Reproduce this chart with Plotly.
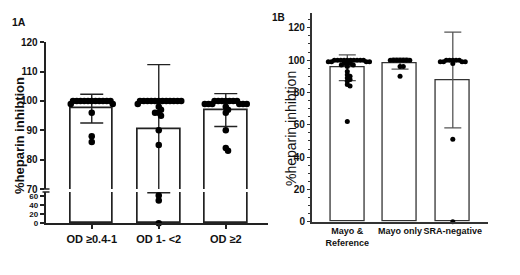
import plotly.graph_objects as go

# ---------------- data ----------------
cats_a = ["OD ≥0.4-1", "OD 1- <2", "OD ≥2"]
mean_a = [97.4, 90.4, 96.9]
sd_a = [4.9, 22.0, 5.6]
pts_a = [
    [100] * 11 + [99, 99, 96, 88, 86],
    [100] * 12 + [99, 98, 97, 96, 96, 95, 90, 85, 62, 51, 0],
    [100] * 7 + [99] * 6 + [98, 97, 96, 90, 84, 83],
]

cats_b = ["Mayo &<br>Reference", "Mayo only", "SRA-negative"]
mean_b = [95.3, 97.8, 87.7]
sd_b = [8.0, 3.4, 29.6]
pts_b = [
    [100] * 10 + [99] * 4 + [98] * 3 + [97, 97, 96, 93, 91, 90, 89, 88, 87, 85, 84, 62],
    [100] * 7 + [96, 96, 90],
    [100] * 5 + [99] * 4 + [98, 51, 0],
]

# page body has an 8px margin: the figure is drawn from (8, 8) of the window
OFF = 8
W, H = 520 - OFF, 275 - OFF
FONT = "Arial, Liberation Sans, sans-serif"


def swarm(values, center, px_per_x, ypix, min_dist):
    """Simple beeswarm: returns x positions (data units) for each value."""
    placed = []
    xs = []
    for v in values:
        yp = ypix(v)
        k = 0
        step = 0.25
        while True:
            cands = [0.0] if k == 0 else [k * step, -k * step]
            ok = None
            for c in cands:
                if all((c - px) ** 2 + (yp - py) ** 2 >= min_dist ** 2 for px, py in placed):
                    ok = c
                    break
            if ok is not None:
                placed.append((ok, yp))
                xs.append(center + ok / px_per_x)
                break
            k += 1
    return xs


# pixel geometry in window coordinates (layout)
ax_x0, ax_x1 = 45.7, 268.0
a_up_top, a_up_bot = 42.3, 189.0
a_lo_top, a_lo_bot = 192.0, 223.3
a_xr = [-0.687, 2.63]
a_pxx = (ax_x1 - ax_x0) / (a_xr[1] - a_xr[0])

bx_x0, bx_x1 = 311.7, 488.3
b_top, b_bot = 13.3, 221.7
b_yr = [0, 129]
b_xr = [-0.675, 2.673]
b_pxx = (bx_x1 - bx_x0) / (b_xr[1] - b_xr[0])


def ypix_a(v):
    if v >= 70:
        return a_up_bot - (v - 70) * (a_up_bot - a_up_top) / 50.0
    return a_lo_bot - v * (a_lo_bot - a_lo_top) / 70.0


def ypix_b(v):
    return b_bot - v * (b_bot - b_top) / (b_yr[1] - b_yr[0])


fig = go.Figure()

# ---- panel 1A: bars in both halves of the broken axis ----
for xa, ya in (("x", "y"), ("x2", "y2")):
    fig.add_trace(go.Bar(
        x=[0, 1, 2], y=mean_a, width=0.64,
        marker=dict(color="white", line=dict(color="#222", width=1.7)),
        error_y=dict(type="data", array=sd_a, color="#222", thickness=1.4, width=11.5),
        xaxis=xa, yaxis=ya, showlegend=False, hoverinfo="skip"))

for i, vals in enumerate(pts_a):
    xs = swarm(vals, i, a_pxx, ypix_a, 3.6)
    up = [(x, v) for x, v in zip(xs, vals) if v >= 70]
    lo = [(x, v) for x, v in zip(xs, vals) if v < 70]
    for grp, xa, ya in ((up, "x", "y"), (lo, "x2", "y2")):
        if grp:
            fig.add_trace(go.Scatter(
                x=[g[0] for g in grp], y=[g[1] for g in grp], mode="markers",
                marker=dict(color="black", size=6.5),
                xaxis=xa, yaxis=ya, showlegend=False, cliponaxis=False))

# ---- panel 1B ----
fig.add_trace(go.Bar(
    x=[0, 1, 2], y=mean_b, width=0.645,
    marker=dict(color="white", line=dict(color="#333", width=1.3)),
    error_y=dict(type="data", array=sd_b, color="#555", thickness=1.3, width=8.5),
    xaxis="x3", yaxis="y3", showlegend=False, hoverinfo="skip"))

for i, vals in enumerate(pts_b):
    xs = swarm(vals, i, b_pxx, ypix_b, 3.1)
    fig.add_trace(go.Scatter(
        x=xs, y=vals, mode="markers", marker=dict(color="black", size=5),
        xaxis="x3", yaxis="y3", showlegend=False, cliponaxis=False))


def fx(px):
    return (px - OFF) / W


def fy(py):
    return 1 - (py - OFF) / H


common_y = dict(showline=True, linecolor="#222", linewidth=2, ticks="outside",
                ticklen=4, tickwidth=1.5, tickcolor="#222", showgrid=False,
                zeroline=False, fixedrange=True, automargin=False)

fig.update_layout(
    template="none",
    width=W, height=H, margin=dict(l=0, r=0, t=0, b=0, pad=0),
    paper_bgcolor="white", plot_bgcolor="rgba(0,0,0,0)",
    font=dict(family=FONT, color="#111"), bargap=0,
    xaxis=dict(domain=[fx(ax_x0), fx(ax_x1)], range=a_xr, anchor="y",
               visible=False, fixedrange=True, automargin=False),
    yaxis=dict(domain=[fy(a_up_bot), fy(a_up_top)], range=[70, 120], anchor="x",
               tickvals=[70, 80, 90, 100, 110, 120],
               tickfont=dict(family=FONT, size=10, color="#111", weight="bold"),
               **common_y),
    xaxis2=dict(domain=[fx(ax_x0), fx(ax_x1)], range=a_xr, anchor="y2",
                tickvals=[0, 1, 2], ticktext=cats_a, tickangle=0,
                tickfont=dict(family=FONT, size=11, color="#111", weight="bold"),
                showline=True, linecolor="#222", linewidth=2, ticks="outside",
                ticklen=4, tickwidth=1.5, tickcolor="#222", showgrid=False,
                zeroline=False, fixedrange=True, automargin=False),
    yaxis2=dict(domain=[fy(a_lo_bot), fy(a_lo_top)], range=[0, 70], anchor="x2",
                tickvals=[0, 20, 40, 60],
                tickfont=dict(family=FONT, size=8, color="#111", weight="bold"),
                **common_y),
    xaxis3=dict(domain=[fx(bx_x0), fx(bx_x1)], range=b_xr, anchor="y3",
                tickvals=[0, 1, 2], ticktext=cats_b, tickangle=0,
                tickfont=dict(family=FONT, size=9, color="#111", weight="bold"),
                showline=True, linecolor="#333", linewidth=1.5, ticks="",
                showgrid=False, zeroline=False, fixedrange=True, automargin=False),
    yaxis3=dict(domain=[fy(b_bot), fy(b_top)], range=b_yr, anchor="x3",
                tickvals=[0, 20, 40, 60, 80, 100, 120],
                tickfont=dict(family=FONT, size=10, color="#111", weight="bold"),
                showline=True, linecolor="#333", linewidth=1.5, ticks="outside",
                ticklen=3, tickwidth=1.3, tickcolor="#333", ticklabelstandoff=0,
                minor=dict(dtick=5, ticks="outside", ticklen=2, tickwidth=1, tickcolor="#333"),
                showgrid=False, zeroline=False, fixedrange=True, automargin=False),
)

# break marks on the 1A y axis
for py in (a_up_bot, a_lo_top):
    fig.add_shape(type="line", xref="paper", yref="paper",
                  x0=fx(42.5), x1=fx(49.5), y0=fy(py), y1=fy(py),
                  line=dict(color="#222", width=1.5))

fig.add_annotation(text="%heparin inhibtion", xref="paper", yref="paper",
                   x=fx(19), y=fy(136), textangle=-90, showarrow=False,
                   xanchor="center", yanchor="middle",
                   font=dict(family=FONT, size=13, color="#111", weight="bold"))
fig.add_annotation(text="%heparin inhibtion", xref="paper", yref="paper",
                   x=fx(291), y=fy(129), textangle=-90, showarrow=False,
                   xanchor="center", yanchor="middle",
                   font=dict(family=FONT, size=14, color="#111"))
fig.add_annotation(text="1A", xref="paper", yref="paper", x=fx(18.5), y=fy(21.5),
                   showarrow=False, xanchor="center", yanchor="middle",
                   font=dict(family=FONT, size=10.5, color="#111", weight="bold"))
fig.add_annotation(text="1B", xref="paper", yref="paper", x=fx(278), y=fy(18),
                   showarrow=False, xanchor="center", yanchor="middle",
                   font=dict(family=FONT, size=10, color="#111", weight="bold"))

fig.write_html("out.html")
